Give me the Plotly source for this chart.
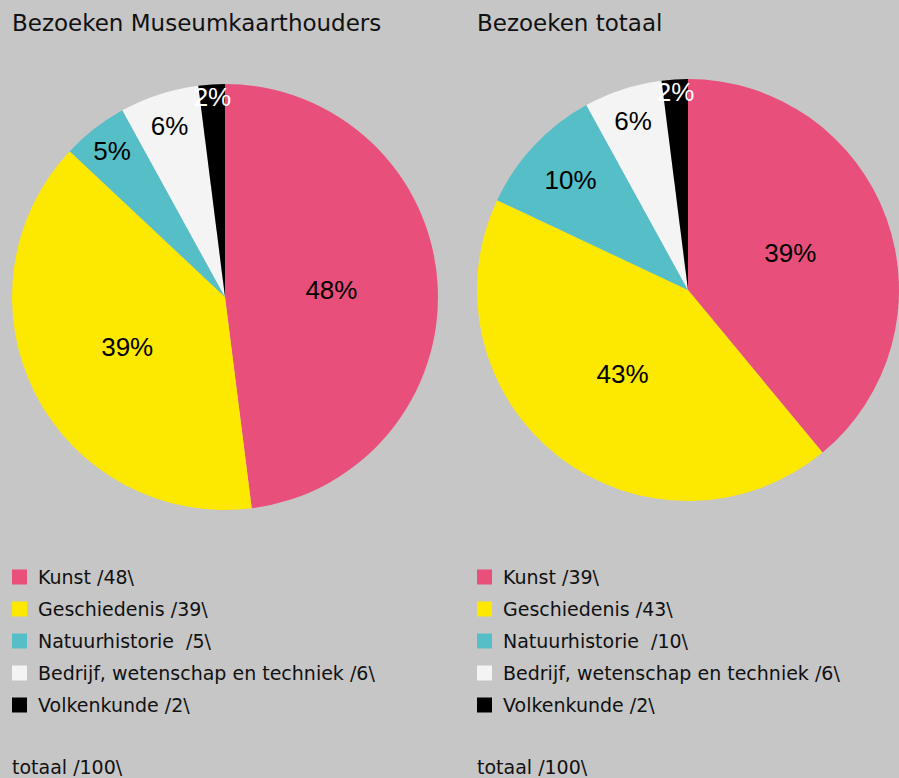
import plotly.graph_objects as go

categories = ["Kunst", "Geschiedenis", "Natuurhistorie ", "Bedrijf, wetenschap en techniek", "Volkenkunde"]
museumkaart_values = [48, 39, 5, 6, 2]
totaal_values = [39, 43, 10, 6, 2]
titles = ["Bezoeken Museumkaarthouders", "Bezoeken totaal"]
total_label = "totaal /100\\"

colors = ["#E8507B", "#FDE800", "#55BEC7", "#F4F4F4", "#000000"]
text_colors = ["#000000", "#000000", "#000000", "#000000", "#FFFFFF"]

W, H = 899, 778
BG = "#C6C6C6"
FONT = "DejaVu Sans, sans-serif"
PCT_FONT = "Liberation Sans, Arial, sans-serif"


def px_x(x):
    return x / W


def px_y(y):
    return 1 - y / H


fig = go.Figure()

pies = [
    (museumkaart_values, 225, 297, 213),
    (totaal_values, 688, 290, 211),
]

for vals, cx, cy, r in pies:
    fig.add_trace(go.Pie(
        labels=categories,
        values=vals,
        sort=False,
        direction="clockwise",
        rotation=0,
        marker=dict(colors=colors, line=dict(width=0)),
        textinfo="percent",
        texttemplate="%{percent:.0%}",
        textposition="inside",
        insidetextorientation="horizontal",
        textfont=dict(family=PCT_FONT, size=26, color=text_colors),
        showlegend=False,
        hoverinfo="label+value",
        domain=dict(x=[px_x(cx - r), px_x(cx + r)], y=[px_y(cy + r), px_y(cy - r)]),
    ))

annotations = []
shapes = []
legend_x0 = [12, 477]
for i, (title, vals) in enumerate(zip(titles, [museumkaart_values, totaal_values])):
    x0 = legend_x0[i]
    annotations.append(dict(
        x=px_x(x0 - 2), y=px_y(23), xref="paper", yref="paper",
        text=title, showarrow=False, xanchor="left", yanchor="middle",
        font=dict(family=FONT, size=23, color="#111111"),
    ))
    for j, (cat, v) in enumerate(zip(categories, vals)):
        yc = 577 + j * 32
        shapes.append(dict(
            type="rect", xref="paper", yref="paper",
            x0=px_x(x0), x1=px_x(x0 + 15), y0=px_y(yc + 7.5), y1=px_y(yc - 7.5),
            fillcolor=colors[j], line=dict(width=0),
        ))
        annotations.append(dict(
            x=px_x(x0 + 24), y=px_y(yc), xref="paper", yref="paper",
            text=f"{cat} /{v}\\", showarrow=False, xanchor="left", yanchor="middle",
            font=dict(family=FONT, size=19, color="#111111"),
        ))
    annotations.append(dict(
        x=px_x(x0 - 2), y=px_y(767), xref="paper", yref="paper",
        text=total_label, showarrow=False, xanchor="left", yanchor="middle",
        font=dict(family=FONT, size=19, color="#111111"),
    ))

fig.update_layout(
    width=W, height=H,
    margin=dict(l=0, r=0, t=0, b=0),
    paper_bgcolor=BG, plot_bgcolor=BG,
    annotations=annotations, shapes=shapes,
    uniformtext=dict(minsize=26, mode="show"),
)

fig.write_html(
    "out.html",
    config=dict(displayModeBar=False),
    post_script="document.body.style.margin='0';document.body.style.overflow='hidden';",
)
